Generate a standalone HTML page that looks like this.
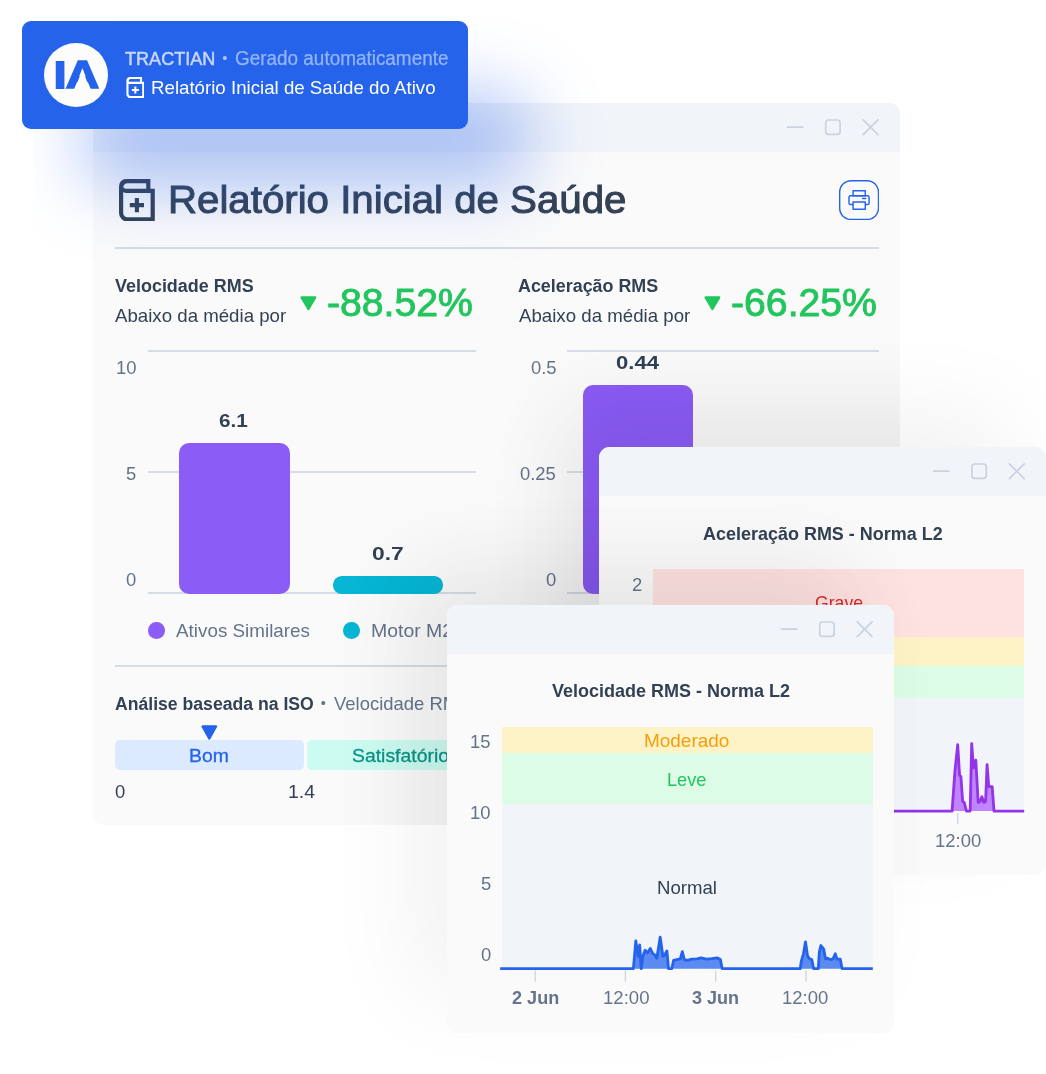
<!DOCTYPE html>
<html lang="pt-BR">
<head>
<meta charset="utf-8">
<title>Relatório Inicial de Saúde do Ativo</title>
<style>
*{box-sizing:border-box;margin:0;padding:0}
html,body{width:1046px;height:1074px;background:#fff;overflow:hidden}
body{font-family:"Liberation Sans",Arial,Helvetica,sans-serif;}
#page{position:relative;width:1046px;height:1074px;overflow:hidden;background:#fff}
.win{position:absolute;background:#fafafa;border-radius:11px;overflow:hidden}
.shadow{position:absolute;border-radius:11px;}
.bar{position:absolute;left:0;top:0;right:0;height:49px;background:#f1f4f9}
.t{position:absolute;white-space:nowrap;line-height:1;transform-origin:0 50%;display:block}
.ctl{position:absolute}
.abs{position:absolute}
.grid{position:absolute;height:1.6px;background:#d7dde8}
.badge{position:absolute;left:22px;top:21px;width:446.4px;height:108.2px;border-radius:9px;background:#2563eb;}
</style>
</head>
<body>
<div id="page">

<section class="win" style="left:93.2px;top:102.8px;width:807px;height:722px">
<div class="bar"></div>
<svg class="ctl" width="807" height="49" viewBox="0 0 807 49" style="left:0;top:0"><g fill="none" stroke="#c9d3e0" stroke-width="1.7" stroke-linecap="round"><path d="M694.6 24.2H709.8"/><rect x="732.7" y="17.0" width="14.4" height="14.4" rx="3"/><path d="M770.2 16.799999999999997L785 31.6M785 16.799999999999997L770.2 31.6"/></g></svg>
<svg class="abs" style="left:25.80px;top:76.20px" width="35.8" height="42.5" viewBox="0 0 35.8 42.5"><path fill="none" stroke="#334155" stroke-width="4.2" stroke-linejoin="miter" d="M29.3 11.7V2.1H8.5A6.4 6.4 0 0 0 2.1 8.5V34A6.4 6.4 0 0 0 8.5 40.4H33.7V11.8H7A4.85 4.85 0 0 1 7 2.1"/><path fill="none" stroke="#334155" stroke-width="4.1" d="M10.8 26.15H25M17.9 19V33.3"/></svg>
<span class="t" style="left:74.98px;top:76.89px;font-size:39.7px;color:#334155;transform:scaleX(1.0136);-webkit-text-stroke:1.0px #334155;">Relatório Inicial de Saúde</span>
<svg class="abs" style="left:745.70px;top:77.20px" width="40.2" height="40.2" viewBox="838.9 180 40.2 40.2"><rect x="839.6" y="180.7" width="38.8" height="38.8" rx="11.4" fill="#fafafa" stroke="#2563eb" stroke-width="1.4"/><g fill="none" stroke="#2563eb" stroke-width="1.45" stroke-linejoin="round"><rect x="853" y="190.8" width="12.2" height="4.9"/><rect x="848.9" y="195.7" width="20.1" height="8.9" rx="1.6"/><rect x="853" y="202.1" width="12.2" height="7.1" fill="#fafafa"/><path d="M862.6 198.5H865.6" stroke-linecap="round"/></g></svg>
<div class="abs" style="left:22.00px;top:144.30px;width:764.00px;height:1.60px;background:#d5dbe7"></div>
<span class="t" style="left:22.11px;top:174.31px;font-size:18.53px;color:#334155;transform:scaleX(0.9691);font-weight:700;">Velocidade RMS</span>
<span class="t" style="left:22.20px;top:203.95px;font-size:18.72px;color:#334155;transform:scaleX(0.9978);">Abaixo da média por</span>
<svg class="abs" style="left:207.10px;top:193.70px" width="16.8" height="14.6" viewBox="0 0 16.8 14.6"><path fill="#22c55e" stroke="#22c55e" stroke-width="2.4" stroke-linejoin="round" d="M1.6 1.5H15.2L8.4 13Z"/></svg>
<span class="t" style="left:234.09px;top:181.04px;font-size:38.7px;color:#22c55e;transform:scaleX(1.0123);-webkit-text-stroke:0.9px #22c55e;">-88.52%</span>
<span class="t" style="left:424.95px;top:174.31px;font-size:18.53px;color:#334155;transform:scaleX(0.9662);font-weight:700;">Aceleração RMS</span>
<span class="t" style="left:425.90px;top:203.95px;font-size:18.72px;color:#334155;transform:scaleX(0.9984);">Abaixo da média por</span>
<svg class="abs" style="left:610.70px;top:193.70px" width="16.8" height="14.6" viewBox="0 0 16.8 14.6"><path fill="#22c55e" stroke="#22c55e" stroke-width="2.4" stroke-linejoin="round" d="M1.6 1.5H15.2L8.4 13Z"/></svg>
<span class="t" style="left:637.79px;top:181.04px;font-size:38.7px;color:#22c55e;transform:scaleX(1.0130);-webkit-text-stroke:0.9px #22c55e;">-66.25%</span>
<div class="grid" style="left:54.50px;top:247.50px;width:327.90px;height:1.60px;"></div>
<div class="grid" style="left:473.90px;top:247.50px;width:311.90px;height:1.60px;"></div>
<div class="grid" style="left:54.50px;top:368.40px;width:327.90px;height:1.60px;"></div>
<div class="grid" style="left:473.90px;top:368.40px;width:311.90px;height:1.60px;"></div>
<div class="grid" style="left:54.50px;top:489.30px;width:327.90px;height:1.60px;"></div>
<div class="grid" style="left:473.90px;top:489.30px;width:311.90px;height:1.60px;"></div>
<span class="t" style="left:22.78px;top:255.81px;font-size:18.53px;color:#64748b;transform:scaleX(0.9948);">10</span>
<span class="t" style="left:33.11px;top:361.71px;font-size:18.53px;color:#64748b;transform:scaleX(0.9948);">5</span>
<span class="t" style="left:33.01px;top:468.11px;font-size:18.53px;color:#64748b;transform:scaleX(0.9948);">0</span>
<span class="t" style="left:437.72px;top:255.81px;font-size:18.53px;color:#64748b;transform:scaleX(0.9948);">0.5</span>
<span class="t" style="left:427.19px;top:361.71px;font-size:18.53px;color:#64748b;transform:scaleX(0.9948);">0.25</span>
<span class="t" style="left:452.61px;top:468.11px;font-size:18.53px;color:#64748b;transform:scaleX(0.9948);">0</span>
<div class="abs" style="left:86.10px;top:340.20px;width:110.60px;height:151.00px;background:#8b5cf6;border-radius:10px"></div>
<div class="abs" style="left:239.60px;top:473.60px;width:110.40px;height:17.60px;background:#06b6d4;border-radius:8.8px"></div>
<div class="abs" style="left:489.80px;top:282.70px;width:110.40px;height:208.50px;background:#8b5cf6;border-radius:10px"></div>
<span class="t" style="left:126.07px;top:309.15px;font-size:18.72px;color:#334155;transform:scaleX(1.1085);font-weight:700;">6.1</span>
<span class="t" style="left:278.69px;top:442.25px;font-size:18.72px;color:#334155;transform:scaleX(1.2193);font-weight:700;">0.7</span>
<span class="t" style="left:523.22px;top:251.25px;font-size:18.72px;color:#334155;transform:scaleX(1.1808);font-weight:700;">0.44</span>
<div class="abs" style="left:54.80px;top:519.20px;width:16.60px;height:16.60px;background:#8b5cf6;border-radius:50%"></div>
<span class="t" style="left:82.60px;top:519.25px;font-size:18.72px;color:#64748b;transform:scaleX(1.0073);">Ativos Similares</span>
<div class="abs" style="left:250.10px;top:519.20px;width:16.60px;height:16.60px;background:#06b6d4;border-radius:50%"></div>
<span class="t" style="left:277.44px;top:519.25px;font-size:18.72px;color:#64748b;transform:scaleX(1.0387);">Motor M2</span>
<div class="abs" style="left:642.80px;top:519.20px;width:16.60px;height:16.60px;background:#8b5cf6;border-radius:50%"></div>
<div class="abs" style="left:22.00px;top:562.50px;width:764.00px;height:1.60px;background:#d5dbe7"></div>
<span class="t" style="left:21.66px;top:592.41px;font-size:18.53px;color:#334155;transform:scaleX(0.9513);font-weight:700;">Análise baseada na ISO</span>
<span class="t" style="left:227.46px;top:593.53px;font-size:14.5px;color:#64748b;transform:scaleX(1.0000);">•</span>
<span class="t" style="left:241.11px;top:592.25px;font-size:18.72px;color:#64748b;transform:scaleX(0.9864);">Velocidade RMS</span>
<svg class="abs" style="left:107.90px;top:621.80px" width="16.6" height="15" viewBox="0 0 16.6 15"><path fill="#2563eb" stroke="#2563eb" stroke-width="2.4" stroke-linejoin="round" d="M1.6 1.5H15L8.3 13.4Z"/></svg>
<div class="abs" style="left:22.10px;top:637.20px;width:188.70px;height:29.80px;background:#dbeafe;border-radius:5px"></div>
<span class="t" style="left:95.72px;top:643.91px;font-size:18.53px;color:#2563eb;transform:scaleX(1.0471);-webkit-text-stroke:0.3px #2563eb;">Bom</span>
<div class="abs" style="left:213.80px;top:637.20px;width:188.70px;height:29.80px;background:#ccfbf1;border-radius:5px"></div>
<span class="t" style="left:258.99px;top:643.91px;font-size:18.53px;color:#0d9488;transform:scaleX(1.0471);-webkit-text-stroke:0.3px #0d9488;">Satisfatório</span>
<div class="abs" style="left:405.60px;top:637.20px;width:188.70px;height:29.80px;background:#fef3c7;border-radius:5px"></div>
<div class="abs" style="left:597.30px;top:637.20px;width:188.70px;height:29.80px;background:#fee2e2;border-radius:5px"></div>
<span class="t" style="left:21.86px;top:679.91px;font-size:18.53px;color:#334155;transform:scaleX(0.9948);">0</span>
<span class="t" style="left:194.95px;top:679.91px;font-size:18.53px;color:#334155;transform:scaleX(1.0457);">1.4</span>
<div class="shadow" style="left:505.8px;top:344.5px;width:447.2px;height:428.2px;box-shadow:-38px -38px 95px rgba(0,0,0,0.04)"></div>
<div class="shadow" style="left:353.8px;top:502.09999999999997px;width:447px;height:427.8px;box-shadow:-38px -38px 95px rgba(0,0,0,0.04)"></div>
</section>
<div class="shadow" style="left:599px;top:447.3px;width:447.2px;height:428.2px;box-shadow:-38px -38px 95px rgba(0,0,0,0.05)"></div>
<section class="win" style="left:599px;top:447.3px;width:447.2px;height:428.2px">
<div class="bar"></div>
<svg class="ctl" width="447.2" height="49" viewBox="0 0 447.2 49" style="left:0;top:0"><g fill="none" stroke="#c9d3e0" stroke-width="1.7" stroke-linecap="round"><path d="M334.79999999999995 24.2H350.0"/><rect x="372.9" y="17.0" width="14.4" height="14.4" rx="3"/><path d="M410.4 16.799999999999997L425.2 31.6M425.2 16.799999999999997L410.4 31.6"/></g></svg>
<span class="t" style="left:103.95px;top:77.44px;font-size:18.14px;color:#334155;transform:scaleX(0.9916);font-weight:700;">Aceleração RMS - Norma L2</span>
<div class="abs" style="left:54.10px;top:121.80px;width:371.10px;height:67.80px;background:#fee2e2"></div>
<div class="abs" style="left:54.10px;top:189.30px;width:371.10px;height:29.90px;background:#fef3c7"></div>
<div class="abs" style="left:54.10px;top:218.80px;width:371.10px;height:31.70px;background:#dcfce7"></div>
<div class="abs" style="left:54.10px;top:250.40px;width:371.10px;height:113.70px;background:#f1f5f9"></div>
<span class="t" style="left:216.12px;top:146.75px;font-size:18.72px;color:#dc2626;transform:scaleX(0.9424);">Grave</span>
<span class="t" style="left:32.89px;top:128.81px;font-size:18.53px;color:#64748b;transform:scaleX(0.9948);">2</span>
<svg class="abs" style="left:0;top:0" width="447.2" height="428.2" viewBox="0 0 447.2 428.2"><path d="M53.1 364.1 L353.1 364.1 L355.9 324.7 L358.7 297.6 L360.6 328.4 L361.9 329.3 L363.7 354.5 L365.2 355.4 L367.5 364.1 L371.2 364.1 L372.7 296.7 L374.5 320.9 L376.8 313.1 L379.2 355.4 L381.1 354.5 L382.9 349.8 L384.8 355.4 L386.6 354.5 L388.1 317.6 L389.8 339.6 L393.2 339.6 L395.0 364.1 L425.2 364.1Z" fill="#c084fc"/><path d="M53.1 364.1 L353.1 364.1 L355.9 324.7 L358.7 297.6 L360.6 328.4 L361.9 329.3 L363.7 354.5 L365.2 355.4 L367.5 364.1 L371.2 364.1 L372.7 296.7 L374.5 320.9 L376.8 313.1 L379.2 355.4 L381.1 354.5 L382.9 349.8 L384.8 355.4 L386.6 354.5 L388.1 317.6 L389.8 339.6 L393.2 339.6 L395.0 364.1 L425.2 364.1" fill="none" stroke="#9333ea" stroke-width="2.8" stroke-linejoin="round"/><path d="M358.7 365.9V376.9M177.9 365.9V376.9M268.3 365.9V376.9M87.6 365.9V376.9" stroke="#cbd5e1" stroke-width="1.3" fill="none"/></svg>
<span class="t" style="left:335.92px;top:384.81px;font-size:18.53px;color:#64748b;transform:scaleX(0.9958);">12:00</span>
<div class="shadow" style="left:-152px;top:157.59999999999997px;width:447px;height:427.8px;box-shadow:-38px -38px 95px rgba(0,0,0,0.04)"></div>
</section>
<div class="shadow" style="left:447px;top:604.9px;width:447px;height:427.8px;box-shadow:-38px -38px 95px rgba(0,0,0,0.05)"></div>
<section class="win" style="left:447px;top:604.9px;width:447px;height:427.8px">
<div class="bar" style="height:49.2px"></div>
<svg class="ctl" width="447" height="49" viewBox="0 0 447 49" style="left:0;top:0"><g fill="none" stroke="#c9d3e0" stroke-width="1.7" stroke-linecap="round"><path d="M334.6 24.2H349.8"/><rect x="372.7" y="17.0" width="14.4" height="14.4" rx="3"/><path d="M410.2 16.799999999999997L425 31.6M425 16.799999999999997L410.2 31.6"/></g></svg>
<span class="t" style="left:104.81px;top:77.24px;font-size:18.14px;color:#334155;transform:scaleX(0.9930);font-weight:700;">Velocidade RMS - Norma L2</span>
<div class="abs" style="left:54.50px;top:121.90px;width:371.60px;height:26.70px;background:#fef3c7"></div>
<div class="abs" style="left:54.50px;top:148.50px;width:371.60px;height:51.00px;background:#dcfce7"></div>
<div class="abs" style="left:54.50px;top:199.40px;width:371.60px;height:164.40px;background:#f1f5f9"></div>
<span class="t" style="left:197.48px;top:126.95px;font-size:18.72px;color:#f59e0b;transform:scaleX(1.0135);">Moderado</span>
<span class="t" style="left:220.35px;top:165.75px;font-size:18.72px;color:#22c55e;transform:scaleX(0.9715);">Leve</span>
<span class="t" style="left:209.71px;top:273.65px;font-size:18.72px;color:#334155;transform:scaleX(0.9948);">Normal</span>
<span class="t" style="left:23.38px;top:128.51px;font-size:18.53px;color:#64748b;transform:scaleX(0.9948);">15</span>
<span class="t" style="left:23.28px;top:199.41px;font-size:18.53px;color:#64748b;transform:scaleX(0.9948);">10</span>
<span class="t" style="left:33.61px;top:270.11px;font-size:18.53px;color:#64748b;transform:scaleX(0.9948);">5</span>
<span class="t" style="left:33.51px;top:340.91px;font-size:18.53px;color:#64748b;transform:scaleX(0.9948);">0</span>
<svg class="abs" style="left:0;top:0" width="447" height="427.8" viewBox="0 0 447 427.8"><path d="M53.1 363.7 L186.4 363.7 L188.8 335.8 L191.1 351.2 L192.7 339.9 L194.2 363.7 L195.8 351.2 L198.1 345.2 L200.5 347.9 L203.2 343.5 L205.8 348.6 L207.8 349.9 L209.8 353.2 L213.2 332.2 L215.9 351.2 L217.6 350.2 L219.9 345.9 L221.5 363.7 L224.8 363.7 L226.6 355.3 L229.9 354.6 L233.3 353.9 L235.3 346.6 L237.3 354.6 L240.6 355.3 L244.6 354.2 L250.0 353.9 L254.0 352.8 L259.4 354.2 L264.7 353.6 L270.1 352.8 L273.4 354.6 L275.2 363.7 L353.2 363.7 L354.5 355.3 L356.5 348.6 L358.5 336.8 L360.6 351.2 L362.6 353.9 L364.8 354.6 L366.6 363.7 L371.3 363.7 L372.3 347.2 L373.9 340.5 L376.6 343.9 L378.6 353.9 L380.6 353.2 L383.3 354.6 L386.0 353.9 L388.3 348.8 L390.0 354.2 L393.3 354.2 L395.1 363.7 L425.8 363.7Z" fill="#5b8af0"/><path d="M53.1 363.7 L186.4 363.7 L188.8 335.8 L191.1 351.2 L192.7 339.9 L194.2 363.7 L195.8 351.2 L198.1 345.2 L200.5 347.9 L203.2 343.5 L205.8 348.6 L207.8 349.9 L209.8 353.2 L213.2 332.2 L215.9 351.2 L217.6 350.2 L219.9 345.9 L221.5 363.7 L224.8 363.7 L226.6 355.3 L229.9 354.6 L233.3 353.9 L235.3 346.6 L237.3 354.6 L240.6 355.3 L244.6 354.2 L250.0 353.9 L254.0 352.8 L259.4 354.2 L264.7 353.6 L270.1 352.8 L273.4 354.6 L275.2 363.7 L353.2 363.7 L354.5 355.3 L356.5 348.6 L358.5 336.8 L360.6 351.2 L362.6 353.9 L364.8 354.6 L366.6 363.7 L371.3 363.7 L372.3 347.2 L373.9 340.5 L376.6 343.9 L378.6 353.9 L380.6 353.2 L383.3 354.6 L386.0 353.9 L388.3 348.8 L390.0 354.2 L393.3 354.2 L395.1 363.7 L425.8 363.7" fill="none" stroke="#2563eb" stroke-width="2.8" stroke-linejoin="round"/><path d="M88.2 365.5V376.7M178.4 365.5V376.7M268.7 365.5V376.7M359.0 365.5V376.7" stroke="#cbd5e1" stroke-width="1.3" fill="none"/></svg>
<span class="t" style="left:65.17px;top:383.91px;font-size:18.53px;color:#64748b;transform:scaleX(0.9763);font-weight:700;">2 Jun</span>
<span class="t" style="left:155.51px;top:383.91px;font-size:18.53px;color:#64748b;transform:scaleX(1.0026);">12:00</span>
<span class="t" style="left:245.47px;top:383.91px;font-size:18.53px;color:#64748b;transform:scaleX(0.9738);font-weight:700;">3 Jun</span>
<span class="t" style="left:335.49px;top:383.91px;font-size:18.53px;color:#64748b;transform:scaleX(0.9990);">12:00</span>
</section>
<div class="abs" style="left:32.5px;top:0;width:1013.5px;height:400px;overflow:hidden;pointer-events:none"><div class="abs" style="left:49px;top:93px;width:447px;height:94px;border-radius:30px;background:rgba(37,99,235,0.37);filter:blur(35px)"></div></div>
<div class="badge">
<div class="abs" style="left:21.700000000000003px;top:21.6px;width:64.4px;height:64.4px;border-radius:50%;background:#fcfcfc"></div>
<svg class="abs" style="left:21.700000000000003px;top:21.6px" width="64.4" height="64.4" viewBox="43.7 42.6 64.4 64.4"><g font-family="Liberation Sans, Arial, sans-serif" font-weight="700" fill="#2563eb"><text font-size="41.4" transform="translate(51.40 88.8) scale(1.4493 1)">I</text><text font-size="38.95" stroke="#2563eb" stroke-width="1.6" stroke-linejoin="miter" transform="translate(65.49 88.00) scale(1.1878 1)">A</text></g><path d="M73.9 90.5L82.1 68.9L90.3 90.5Z" fill="#fcfcfc"/><path d="M64 88.85H100.5V91.2H64Z" fill="#fcfcfc"/></svg>
<span class="t" style="left:102.69px;top:28.03px;font-size:19.1px;color:#c7d7fb;transform:scaleX(0.9467);-webkit-text-stroke:0.5px #c7d7fb;">TRACTIAN</span>
<span class="t" style="left:200.28px;top:28.80px;font-size:15px;color:#a7c0fa;transform:scaleX(1.0000);">•</span>
<span class="t" style="left:212.88px;top:27.87px;font-size:19.29px;color:#93b4f8;transform:scaleX(0.9810);-webkit-text-stroke:0.25px #93b4f8;">Gerado automaticamente</span>
<svg class="abs" style="left:103.50px;top:56.00px" width="18.7" height="21.2" viewBox="0 0 35.8 42.5"><path fill="none" stroke="#ffffff" stroke-width="4.2" stroke-linejoin="miter" d="M29.3 11.7V2.1H8.5A6.4 6.4 0 0 0 2.1 8.5V34A6.4 6.4 0 0 0 8.5 40.4H33.7V11.8H7A4.85 4.85 0 0 1 7 2.1"/><path fill="none" stroke="#ffffff" stroke-width="4.1" d="M10.8 26.15H25M17.9 19V33.3"/></svg>
<span class="t" style="left:129.30px;top:58.15px;font-size:18.72px;color:#ffffff;transform:scaleX(0.9987);">Relatório Inicial de Saúde do Ativo</span>
</div>
</div>
</body>
</html>
